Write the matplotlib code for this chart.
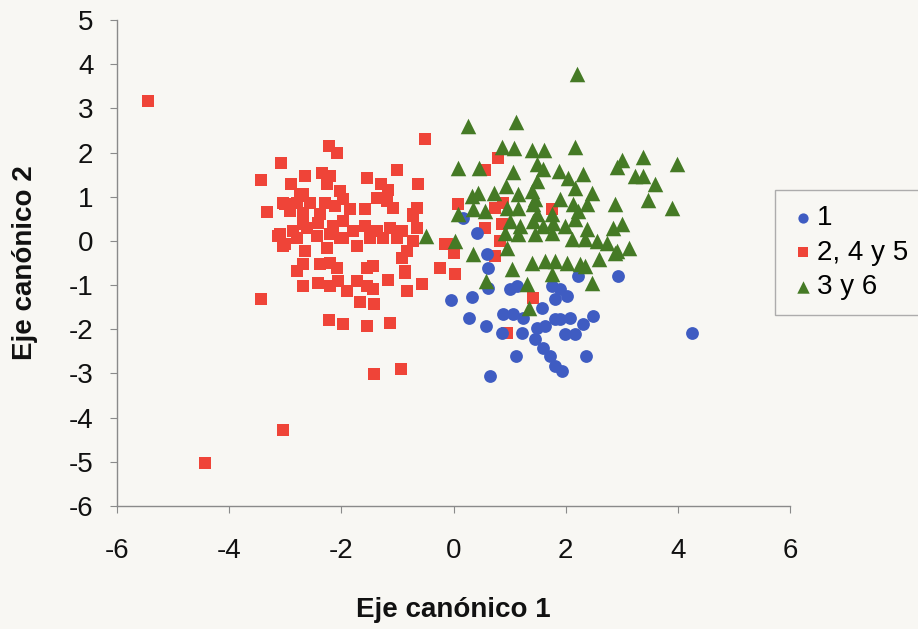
import matplotlib
matplotlib.use("Agg")
import matplotlib.pyplot as plt

plt.rcParams['font.family'] = ['Liberation Sans', 'DejaVu Sans']

# Group "1" (blue circles)
g1_x = [0.17, 0.42, 0.60, 0.61, 0.61, -0.04, 0.33, 1.01, 1.13, 0.28, 0.58, 0.88, 1.06, 1.24,
        1.22, 0.86, 1.11, 0.65, 1.58, 1.49, 1.63, 1.81, 1.90, 2.08, 2.49, 2.31, 1.99, 2.17,
        1.45, 1.60, 1.72, 1.81, 1.93, 2.36, 1.76, 1.90, 2.02, 1.81, 2.22, 2.93, 4.25]
g1_y = [0.52, 0.18, -0.29, -0.61, -1.06, -1.33, -1.27, -1.09, -1.02, -1.74, -1.92, -1.65, -1.65, -1.74,
        -2.08, -2.08, -2.60, -3.05, -1.52, -1.97, -1.92, -1.76, -1.76, -1.74, -1.70, -1.88, -2.10, -2.10,
        -2.22, -2.42, -2.60, -2.83, -2.94, -2.60, -1.02, -1.09, -1.24, -1.31, -0.79, -0.79, -2.08]

# Group "2, 4 y 5" (red squares)
g2_x = [-5.45, -4.43, -3.04, -3.43, -2.22, -1.97, -1.42, -0.94, -0.51,
        -2.22, -2.08, -3.07, -1.01, -3.43, -2.65, -2.34, -2.20, -1.54, -0.63, -2.90, -1.29, -2.25,
        -1.17, -2.68, -2.02, -1.97, -1.36, -1.19, -3.32, -3.04, -2.79, -2.56, -2.29, -2.11, -1.08,
        -0.65, -1.84, -1.58, -0.72, -2.38, -2.68, -2.91, -3.09, -2.86, -2.61, -2.41, -2.15, -1.97,
        -1.79, -1.58, -1.36, -1.13, -0.92, -0.65, -2.20, -2.43,
        -3.13, -3.04, -2.79, -2.65, -2.25, -1.97, -1.72, -1.49, -1.26, -1.01, -0.72, -0.83, -0.92,
        -0.15, -2.79, -2.68, -2.68, -2.38, -2.20, -2.08, -1.54, -1.43, -2.41, -2.20, -2.06, -1.90,
        -1.72, -1.54, -1.43, -1.17, -0.86, -0.83, -0.56, -0.24, -1.67, -1.42, -1.54, -1.13,
        -3.00, -2.74, -2.68, -2.02, -3.00,
        0.56, 0.79, 0.08, 0.74, 0.88, 0.56, 0.86, -0.12, 0.00, 0.74, 0.83, 0.03, -0.86, -0.72,
        1.76, 1.42, 0.95]
g2_y = [3.17, -5.02, -4.28, -1.31, -1.79, -1.88, -3.01, -2.90, 2.31,
        2.15, 1.99, 1.76, 1.61, 1.38, 1.47, 1.54, 1.47, 1.43, 1.29, 1.29, 1.29, 1.29,
        1.15, 1.06, 1.13, 0.95, 0.97, 0.90, 0.66, 0.86, 0.86, 0.86, 0.86, 0.79, 0.75,
        0.75, 0.72, 0.72, 0.61, 0.61, 0.63, 0.68, 0.16, 0.23, 0.29, 0.41, 0.34, 0.45,
        0.23, 0.34, 0.23, 0.29, 0.23, 0.29, 0.16, 0.11,
        0.11, -0.11, 0.07, -0.23, -0.16, 0.07, -0.11, 0.07, 0.07, 0.07, 0.00, -0.23, -0.38,
        -0.07, -0.68, -0.52, -1.02, -0.52, -0.50, -0.61, -0.61, -0.57, -0.95, -1.02, -0.90, -1.13,
        -0.90, -1.02, -1.09, -0.88, -0.72, -1.13, -0.97, -0.61, -1.38, -1.43, -1.92, -1.86,
        0.84, 1.02, 0.38, 0.07, -0.07,
        1.61, 1.88, 0.84, 0.75, 0.86, 0.29, 0.38, -0.07, -0.27, -0.34, 0.00, -0.75, -0.68, 0.57,
        0.72, -1.29, -2.08]

# Group "3 y 6" (green triangles)
g3_x = [2.20, 0.26, 1.11, 0.86, 1.08, 1.40, 1.61, 2.17, 0.08, 0.45, 1.06, 1.49, 1.60, 1.88,
        2.31, 2.04, 3.00, 2.91, 3.38, 3.98, 3.24, 3.38, 3.59, 3.47, 3.89, 2.88, 2.47, 2.17,
        1.90, 1.49, 1.40, 1.15, 0.94, 0.72, 0.44, 0.33, 0.35, 0.56, 0.08, 1.15, 1.42, 2.13,
        2.38, 2.22,
        1.45, 0.95, 1.49, 1.76, 1.01, 1.19, 1.42, 1.60, 1.77, 1.99, 2.17, 2.38, 2.84, 3.00,
        0.92, 1.15, 1.45, 1.76, 2.11, 2.34, 2.56, 2.74, 2.91, 3.13, 0.03, 0.35, 0.95, 1.40,
        1.63, 1.81, 2.02, 2.26, 2.59, 2.88, 1.04, 0.58, 1.31, 1.76, 2.47, 1.35, -0.49, 2.34]
g3_y = [3.78, 2.60, 2.69, 2.13, 2.10, 2.06, 2.06, 2.13, 1.65, 1.65, 1.56, 1.74, 1.63, 1.58,
        1.52, 1.43, 1.83, 1.67, 1.90, 1.74, 1.47, 1.47, 1.29, 0.93, 0.75, 0.84, 1.09, 1.20,
        0.95, 1.36, 1.13, 1.06, 1.24, 1.09, 1.09, 1.02, 0.72, 0.68, 0.61, 0.75, 0.84, 0.84,
        0.84, 0.68,
        0.95, 0.75, 0.61, 0.61, 0.45, 0.34, 0.45, 0.34, 0.41, 0.34, 0.50, 0.27, 0.29, 0.38,
        0.18, 0.16, 0.16, 0.18, 0.05, 0.05, 0.00, -0.05, -0.23, -0.16, 0.00, -0.29, -0.16, -0.50,
        -0.45, -0.45, -0.50, -0.52, -0.41, -0.27, -0.63, -0.90, -0.97, -0.75, -0.95, -1.52, 0.11, -0.57]

labels = ["1", "2, 4 y 5", "3 y 6"]
x_ticks = [-6, -4, -2, 0, 2, 4, 6]
y_ticks = [5, 4, 3, 2, 1, 0, -1, -2, -3, -4, -5, -6]

bg = "#f8f7f3"
fig = plt.figure(figsize=(9.18, 6.29), dpi=100, facecolor=bg)
ax = fig.add_axes([117/918, 1 - 506/629, (790 - 117)/918, (506 - 20)/629])
ax.set_facecolor(bg)

ax.scatter(g1_x, g1_y, marker='o', s=85, color='#3f5cc2', linewidths=0, label=labels[0], zorder=3)
ax.scatter(g2_x, g2_y, marker='s', s=80, color='#ef4438', linewidths=0, label=labels[1], zorder=2)
ax.scatter(g3_x, g3_y, marker='^', s=125, color='#457a25', linewidths=0, label=labels[2], zorder=4)

ax.set_xlim(-6, 6)
ax.set_ylim(-6, 5)
ax.set_xticks(x_ticks)
ax.set_yticks(y_ticks)
ax.set_xticklabels([str(t) for t in x_ticks])
ax.set_yticklabels([str(t) for t in y_ticks])

for s in ['top', 'right']:
    ax.spines[s].set_visible(False)
for s in ['left', 'bottom']:
    ax.spines[s].set_color('#8a8a8a')
    ax.spines[s].set_linewidth(1.0)
ax.tick_params(axis='both', direction='out', length=5, color='#8a8a8a', labelsize=20, labelcolor='#111111')
ax.tick_params(axis='x', pad=18)
ax.tick_params(axis='y', pad=12)

ax.set_xlabel("Eje canónico 1", fontsize=20, fontweight='bold', labelpad=24, color='#111111')
ax.set_ylabel("Eje canónico 2", fontsize=20, fontweight='bold', labelpad=22, color='#111111')

leg = fig.legend(loc='upper left', bbox_to_anchor=(775/918, 1 - 190/629), fontsize=20,
                 frameon=True, fancybox=False, edgecolor='#9a9a9a', facecolor=bg,
                 handletextpad=0.05, handlelength=0.9, labelspacing=0.3, borderpad=0.55,
                 borderaxespad=0.0, markerscale=0.8)
leg.get_frame().set_linewidth(1.0)

fig.savefig("out.png", dpi=100, facecolor=bg)
